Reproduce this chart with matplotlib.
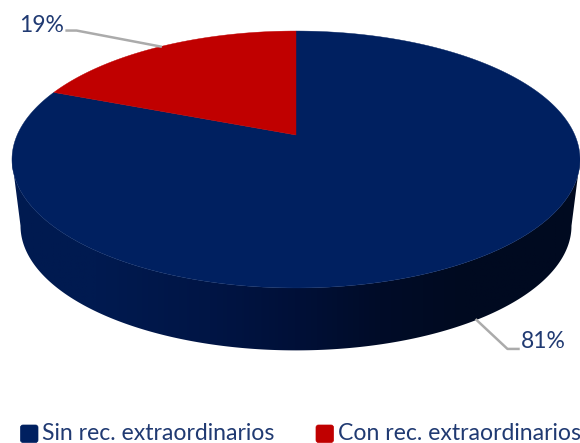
import numpy as np
import matplotlib
matplotlib.use('Agg')
import matplotlib.pyplot as plt
from matplotlib.patches import Polygon, FancyBboxPatch
from matplotlib.colors import LinearSegmentedColormap

labels = ['Sin rec. extraordinarios', 'Con rec. extraordinarios']
values = [81, 19]
pct_labels = ['81%', '19%']
colors = ['#002060', '#C00000']
text_color = '#203A72'

plt.rcParams['font.family'] = ['Lato', 'DejaVu Sans']


def project(theta, scale=1.0, y0=135.0):
    # theta in degrees, clockwise from the top of the pie, perspective view
    t = np.radians(theta)
    X = np.sin(t)
    Y = np.cos(t)
    w = 1 + 0.1907 * Y
    return 296 + scale * 278.8 * X / w, y0 - scale * 123.8 * Y / w


def bottom(theta):
    return project(theta, 0.97, 202.0)


fig = plt.figure(figsize=(5.8, 4.43), dpi=100)
ax = fig.add_axes([0, 0, 1, 1])
ax.axis('off')

# side wall, from the widest point of the top to the widest point of the base
th = np.linspace(101, 259, 300)
tx, ty = project(th)
bx, by = bottom(th)
wall = np.r_[np.c_[tx, ty], np.c_[bx, by][::-1]]
clip = Polygon(wall, closed=True, fc='none', ec='none')
ax.add_patch(clip)
side = LinearSegmentedColormap.from_list('side', [
    (0.0, '#001A50'), (0.15, '#001A50'), (0.35, '#001545'), (0.5, '#001038'),
    (0.65, '#000C28'), (0.8, '#000A20'), (1.0, '#000A20')])
im = ax.imshow(np.linspace(0, 1, 256)[None, :], extent=(10, 580, 360, 150),
               cmap=side, aspect='auto', zorder=1)
im.set_clip_path(clip)
ax.set_xlim(0, 580)
ax.set_ylim(443, 0)

# top face, first slice starts at 12 o'clock going clockwise
start = 0
for i in range(len(values)):
    sweep = 360 * values[i] / sum(values)
    a = np.linspace(start, start + sweep, 300)
    x, y = project(a)
    pts = np.r_[[[296, 135]], np.c_[x, y]]
    ax.add_patch(Polygon(pts, closed=True, fc=colors[i], ec=colors[i], lw=0.3, zorder=2))
    mid = start + sweep / 2
    if i == 0:
        lx, ly = bottom(mid)
        ax.plot([lx, lx + 31, lx + 42], [ly, ly + 29, ly + 29], color='#ABABAB', lw=1.8, zorder=3)
        ax.text(lx + 44, ly + 22, pct_labels[i], color=text_color, fontsize=16.5, va='center', ha='left')
    else:
        lx, ly = project(mid)
        ax.plot([lx, lx - 84, lx - 94], [ly, ly - 16, ly - 16], color='#ABABAB', lw=1.8, zorder=3)
        ax.text(lx - 97, ly - 21, pct_labels[i], color=text_color, fontsize=16.5, va='center', ha='right')
    start += sweep

# legend
legend_x = [20.5, 316]
for i in range(len(labels)):
    ax.add_patch(FancyBboxPatch((legend_x[i], 425), 17.5, 17.5, boxstyle='round,pad=0,rounding_size=2.5',
                                fc=colors[i], ec=colors[i], lw=0.5))
    ax.text(legend_x[i] + 22, 433.5, labels[i], color=text_color, fontsize=16.6, va='center', ha='left')

fig.savefig('out.png', dpi=100)
